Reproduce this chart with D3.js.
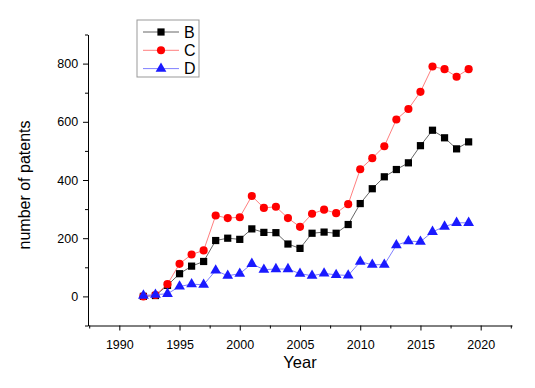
<!DOCTYPE html>
<html>
<head>
<meta charset="utf-8">
<script src="https://cdn.jsdelivr.net/npm/d3@7"></script>
<style>
  body { margin: 0; background: #fff; }
  text { font-family: "Liberation Sans", Arial, sans-serif; }
</style>
</head>
<body>
<div id="chart"></div>
<script>
const years = d3.range(1992, 2020);

const seriesB = [0, 3, 38, 78, 104, 120, 192, 200, 196, 232, 220, 219, 180, 165,
  217, 221, 217, 247, 319, 370, 411, 436, 459, 518, 571, 545, 507, 531];
const seriesC = [0, 5, 42, 112, 144, 158, 278, 269, 272, 345, 304, 308, 269, 239,
  284, 298, 286, 317, 437, 475, 516, 608, 644, 703, 790, 781, 755, 781];
const seriesD = [3, 6, 9, 34, 42, 40, 89, 71, 78, 112, 92, 94, 94, 78,
  71, 79, 74, 72, 119, 109, 109, 176, 190, 188, 222, 240, 253, 253];

const xTicks = [1990, 1995, 2000, 2005, 2010, 2015, 2020];
const yTicks = [0, 200, 400, 600, 800];

const width = 535;
const height = 388;

const series = [
  { name: "B", values: seriesB, line: "#666", fill: "#000", shape: d3.symbolSquare, size: 52 },
  { name: "C", values: seriesC, line: "#ff7f7f", fill: "#f00", shape: d3.symbolCircle, size: 52 },
  { name: "D", values: seriesD, line: "#8080ff", fill: "#1a1aff", shape: d3.symbolTriangle, size: 50 },
];

const x = d3.scaleLinear().domain([1987.4, 2022.6]).range([88, 512]);
const y = d3.scaleLinear().domain([-100, 900]).range([325.5, 34.5]);

const svg = d3.select("#chart")
  .append("svg")
  .attr("width", width)
  .attr("height", height);

// minor ticks
const xMinor = d3.range(1987.5, 2023, 5);
const yMinor = d3.range(-100, 901, 200);

svg.append("g")
  .attr("transform", `translate(0, ${y(-100)})`)
  .call(d3.axisBottom(x).tickValues(xMinor).tickSize(3).tickFormat(""))
  .call((g) => g.select(".domain").remove());

svg.append("g")
  .attr("transform", `translate(${x(1987.4)}, 0)`)
  .call(d3.axisLeft(y).tickValues(yMinor).tickSize(3).tickFormat(""))
  .call((g) => g.select(".domain").remove());

const xAxis = svg.append("g")
  .attr("transform", `translate(0, ${y(-100)})`)
  .call(d3.axisBottom(x).tickValues(xTicks).tickSize(5).tickSizeOuter(0).tickFormat(d3.format("d")));

const yAxis = svg.append("g")
  .attr("transform", `translate(${x(1987.4)}, 0)`)
  .call(d3.axisLeft(y).tickValues(yTicks).tickSize(5).tickSizeOuter(0));

[xAxis, yAxis].forEach((g) => {
  g.selectAll("text").style("font-size", "12.5px").attr("fill", "#000");
  g.selectAll("line, path").attr("stroke", "#000");
});
xAxis.selectAll("text").attr("dy", "1.2em");
yAxis.selectAll("text").attr("dx", "-0.15em");
svg.selectAll(".tick line").attr("stroke", "#000");

svg.append("text")
  .attr("x", 300)
  .attr("y", 368)
  .attr("text-anchor", "middle")
  .style("font-size", "16.5px")
  .text("Year");

svg.append("text")
  .attr("transform", "translate(30, 185) rotate(-90)")
  .attr("text-anchor", "middle")
  .style("font-size", "16px")
  .text("number of patents");

// series
series.forEach((s) => {
  const pts = years.map((yr, i) => [yr, s.values[i]]);
  svg.append("path")
    .datum(pts)
    .attr("fill", "none")
    .attr("stroke", s.line)
    .attr("stroke-width", 1)
    .attr("d", d3.line().x((d) => x(d[0])).y((d) => y(d[1])));

  svg.append("g")
    .selectAll("path")
    .data(pts)
    .enter()
    .append("path")
    .attr("transform", (d) => `translate(${x(d[0])}, ${y(d[1])})`)
    .attr("d", d3.symbol().type(s.shape).size(s.size))
    .attr("fill", s.fill);
});

// legend
const legend = svg.append("g").attr("transform", "translate(137, 20)");
legend.append("rect")
  .attr("width", 62)
  .attr("height", 57)
  .attr("fill", "#fff")
  .attr("stroke", "#999");

series.forEach((s, i) => {
  const ly = 12 + i * 18.3;
  legend.append("line")
    .attr("x1", 6).attr("x2", 42)
    .attr("y1", ly).attr("y2", ly)
    .attr("stroke", s.line);
  legend.append("path")
    .attr("transform", `translate(24, ${ly})`)
    .attr("d", d3.symbol().type(s.shape).size(s.size))
    .attr("fill", s.fill);
  legend.append("text")
    .attr("x", 47)
    .attr("y", ly + 5.5)
    .style("font-size", "16px")
    .text(s.name);
});
</script>
</body>
</html>
